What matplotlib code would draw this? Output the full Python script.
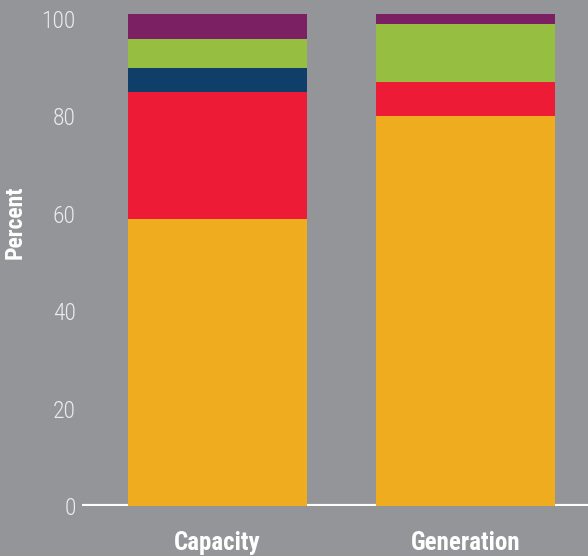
import numpy as np
from matplotlib import pyplot as plt

categories = ['Capacity', 'Generation']
# stacked shares in percent, bottom to top
orange = [59, 80]
red = [26, 7]
navy = [5, 0]
green = [6, 12]
purple = [5, 2]

yticks = [0, 20, 40, 60, 80, 100]

bg = '#939598'
colors = ['#EEAC1E', '#EE1B36', '#0F3F68', '#96BE40', '#7B2062']
layers = [orange, red, navy, green, purple]

plt.rcParams['font.family'] = ['Liberation Sans Narrow', 'Roboto Condensed', 'Roboto', 'DejaVu Sans']

fig = plt.figure(figsize=(5.88, 5.56), dpi=100, facecolor=bg)
ax = fig.add_axes([0.1403, 0.0899, 0.8597, 0.8934])
ax.set_facecolor(bg)

x = np.arange(len(categories))
bottom = np.zeros(len(categories))
for vals, c in zip(layers, colors):
    ax.bar(x, vals, width=0.722, bottom=bottom, color=c, zorder=2)
    bottom += np.array(vals)

ax.axhline(0, color='white', lw=3, zorder=1)

ax.set_xlim(-0.544, 1.494)
ax.set_ylim(0, 102)
ax.set_yticks(yticks)
ax.set_yticklabels([str(t) for t in yticks], fontsize=17, fontweight='light', color='#ececec')
ax.set_xticks(x)
ax.set_xticklabels(categories, fontsize=18, fontweight='bold', color='white')
ax.tick_params(axis='y', length=0, pad=5)
ax.tick_params(axis='x', length=0, pad=18)
for s in ax.spines.values():
    s.set_visible(False)

fig.text(0.026, 0.600, 'Percent', rotation=90, ha='center', va='center',
         fontsize=17, fontweight='bold', color='white')

plt.savefig('out.png', dpi=100, facecolor=bg)
